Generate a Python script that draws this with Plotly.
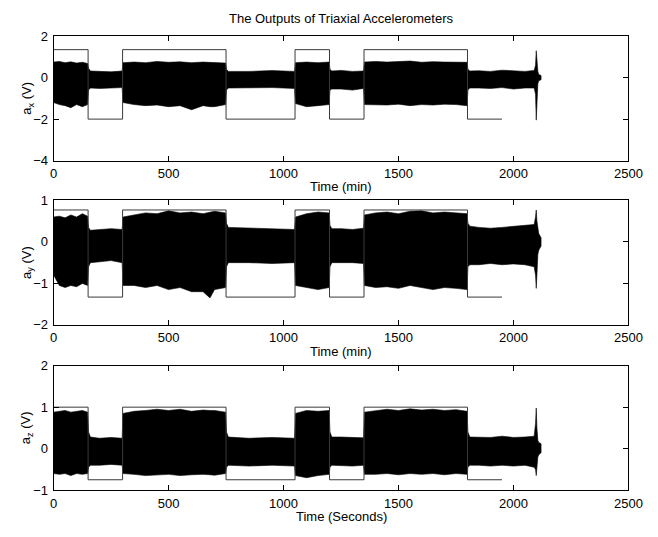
import plotly.graph_objects as go

# ---------------- data ----------------
env_t = [0, 25, 50, 75, 100, 125, 148, 152, 160, 200, 250, 298, 302,
         350, 400, 450, 500, 550, 600, 650, 680, 700, 748, 752, 760,
         850, 950, 1048, 1052, 1100, 1150, 1198, 1202, 1210,
         1250, 1300, 1348, 1352, 1400, 1450, 1500, 1550, 1600, 1650, 1700, 1750, 1798,
         1802, 1810, 1850, 1900, 1950, 2000, 2050, 2090,
         2096, 2099, 2102, 2106, 2110, 2120]

ax_hi = [0.75, 0.78, 0.72, 0.76, 0.70, 0.74, 0.68, 0.45, 0.32, 0.30, 0.28, 0.32, 0.72,
         0.75, 0.72, 0.78, 0.74, 0.76, 0.72, 0.75, 0.74, 0.73, 0.70, 0.40, 0.30,
         0.30, 0.34, 0.30, 0.72, 0.75, 0.72, 0.75, 0.40, 0.32,
         0.35, 0.30, 0.32, 0.75, 0.78, 0.75, 0.76, 0.80, 0.74, 0.77, 0.75, 0.76, 0.74,
         0.40, 0.32, 0.33, 0.30, 0.36, 0.32, 0.30, 0.35,
         0.60, 1.30, 0.80, 0.30, 0.15, 0.10]
ax_lo = [-1.20, -1.30, -1.35, -1.45, -1.30, -1.40, -1.30, -0.60, -0.50, -0.52, -0.50, -0.48, -1.20,
         -1.30, -1.35, -1.32, -1.40, -1.35, -1.55, -1.35, -1.40, -1.40, -1.30, -0.60, -0.50,
         -0.50, -0.48, -0.52, -1.25, -1.40, -1.35, -1.30, -0.60, -0.55,
         -0.55, -0.60, -0.52, -1.30, -1.30, -1.32, -1.28, -1.35, -1.30, -1.32, -1.28, -1.30, -1.35,
         -0.60, -0.50, -0.50, -0.52, -0.48, -0.55, -0.50, -0.50,
         -0.80, -2.05, -1.20, -0.30, -0.15, -0.10]

ay_hi = [0.60, 0.62, 0.58, 0.65, 0.60, 0.68, 0.62, 0.35, 0.28, 0.30, 0.32, 0.30, 0.60,
         0.65, 0.70, 0.68, 0.75, 0.70, 0.72, 0.68, 0.72, 0.74, 0.70, 0.45, 0.35,
         0.33, 0.32, 0.30, 0.60, 0.68, 0.72, 0.70, 0.40, 0.32,
         0.32, 0.30, 0.33, 0.65, 0.70, 0.72, 0.68, 0.74, 0.75, 0.70, 0.72, 0.70, 0.68,
         0.45, 0.38, 0.35, 0.33, 0.35, 0.38, 0.40, 0.42,
         0.60, 0.77, 0.50, 0.30, 0.20, 0.10]
ay_lo = [-0.80, -1.05, -1.10, -1.05, -1.08, -1.00, -1.05, -0.60, -0.50, -0.48, -0.45, -0.50, -1.05,
         -1.05, -1.10, -1.05, -1.15, -1.10, -1.20, -1.20, -1.35, -1.15, -1.10, -0.60, -0.50,
         -0.50, -0.52, -0.50, -1.05, -1.10, -1.15, -1.10, -0.60, -0.50,
         -0.50, -0.50, -0.52, -1.05, -1.10, -1.08, -1.12, -1.05, -1.10, -1.15, -1.10, -1.12, -1.15,
         -0.60, -0.55, -0.55, -0.52, -0.55, -0.53, -0.55, -0.60,
         -0.80, -1.12, -0.80, -0.30, -0.20, -0.10]

az_hi = [0.88, 0.90, 0.92, 0.88, 0.90, 0.92, 0.88, 0.40, 0.28, 0.25, 0.27, 0.25, 0.85,
         0.90, 0.92, 0.95, 0.92, 0.95, 0.90, 0.93, 0.92, 0.92, 0.88, 0.40, 0.28,
         0.25, 0.27, 0.25, 0.85, 0.92, 0.90, 0.92, 0.40, 0.28,
         0.28, 0.27, 0.26, 0.88, 0.92, 0.95, 0.92, 0.96, 0.93, 0.95, 0.92, 0.94, 0.90,
         0.40, 0.28, 0.28, 0.27, 0.30, 0.27, 0.28, 0.30,
         0.60, 0.98, 0.50, 0.20, 0.15, 0.12]
az_lo = [-0.60, -0.62, -0.60, -0.65, -0.60, -0.62, -0.60, -0.45, -0.40, -0.40, -0.38, -0.40, -0.60,
         -0.62, -0.65, -0.63, -0.62, -0.65, -0.63, -0.62, -0.63, -0.64, -0.60, -0.45, -0.40,
         -0.42, -0.40, -0.42, -0.65, -0.70, -0.65, -0.62, -0.45, -0.40,
         -0.40, -0.42, -0.40, -0.62, -0.62, -0.60, -0.63, -0.60, -0.62, -0.60, -0.63, -0.60, -0.62,
         -0.45, -0.40, -0.40, -0.42, -0.40, -0.42, -0.40, -0.45,
         -0.50, -0.65, -0.55, -0.20, -0.15, -0.10]

# square-wave reference (activity labels)
sq_t = [0, 150, 300, 750, 1050, 1200, 1350, 1800, 1950]
sq_state = [1, 0, 1, 0, 1, 0, 1, 0, 0]
sq_levels = {"x": (1.35, -2.0), "y": (0.77, -1.33), "z": (1.0, -0.75)}

y_ranges = {"x": [-4, 2], "y": [-2, 1], "z": [-1, 2]}
y_ticks = {"x": [-4, -2, 0, 2], "y": [-2, -1, 0, 1], "z": [-1, 0, 1, 2]}
x_ticks = [0, 500, 1000, 1500, 2000, 2500]
x_titles = ["Time (min)", "Time (min)", "Time (Seconds)"]
y_titles = ["a<sub>x</sub> (V)", "a<sub>y</sub> (V)", "a<sub>z</sub> (V)"]
title = "The Outputs of Triaxial Accelerometers"

# ---------------- layout geometry ----------------
W, H = 658, 537
x0, x1 = 51, 642
rows_px = [(30, 158), (199, 327), (369, 497)]
FONT = "Liberation Sans, Arial, Helvetica, sans-serif"
FS = 13

fig = go.Figure()
envs = {"x": (ax_hi, ax_lo), "y": (ay_hi, ay_lo), "z": (az_hi, az_lo)}
keys = ["x", "y", "z"]

layout = dict(
    width=W, height=H, margin=dict(l=0, r=0, t=0, b=0),
    paper_bgcolor="white", plot_bgcolor="white", showlegend=False,
    font=dict(family=FONT, size=FS, color="black"),
)
annotations = []
for i, k in enumerate(keys):
    xa = "x" if i == 0 else f"x{i+1}"
    ya = "y" if i == 0 else f"y{i+1}"
    hi, lo = envs[k]
    fig.add_trace(go.Scatter(
        x=env_t + env_t[::-1], y=hi + lo[::-1], fill="toself",
        fillcolor="black", line=dict(color="black", width=0.6),
        mode="lines", xaxis=xa, yaxis=ya, hoverinfo="skip"))
    hv, lv = sq_levels[k]
    fig.add_trace(go.Scatter(
        x=sq_t, y=[hv if s else lv for s in sq_state], mode="lines",
        line=dict(color="#3a3a3a", width=1, shape="hv"),
        xaxis=xa, yaxis=ya, hoverinfo="skip"))
    top, bot = rows_px[i]
    dom_y = [1 - bot / H, 1 - top / H]
    axname_x = "xaxis" if i == 0 else f"xaxis{i+1}"
    axname_y = "yaxis" if i == 0 else f"yaxis{i+1}"
    common = dict(showline=True, linecolor="black", linewidth=1, mirror="ticks",
                  ticks="inside", ticklen=5, tickcolor="black", tickwidth=1,
                  showgrid=False, zeroline=False,
                  tickfont=dict(family=FONT, size=FS, color="black"))
    layout[axname_x] = dict(domain=[x0 / W, x1 / W], range=[0, 2500],
                            tickvals=x_ticks, anchor=ya, ticklabelstandoff=1, **common)
    layout[axname_y] = dict(domain=dom_y, range=y_ranges[k], tickvals=y_ticks[k],
                            anchor=xa, ticklabelstandoff=2, **common)
    annotations.append(dict(text=x_titles[i], xref="paper", yref="paper",
                            x=(x0 + x1) / 2 / W, y=1 - (bot + 27) / H,
                            showarrow=False, xanchor="center", yanchor="middle",
                            font=dict(family=FONT, size=FS)))
    annotations.append(dict(text=y_titles[i], xref="paper", yref="paper",
                            x=24 / W, y=1 - (top + bot) / 2 / H, textangle=-90,
                            showarrow=False, xanchor="center", yanchor="middle",
                            font=dict(family=FONT, size=FS)))

annotations.append(dict(text=title, xref="paper", yref="paper",
                        x=(x0 + x1) / 2 / W, y=1 - 12 / H, showarrow=False,
                        xanchor="center", yanchor="middle",
                        font=dict(family=FONT, size=FS)))
layout["annotations"] = annotations
fig.update_layout(**layout)
fig.write_html("out.html")
